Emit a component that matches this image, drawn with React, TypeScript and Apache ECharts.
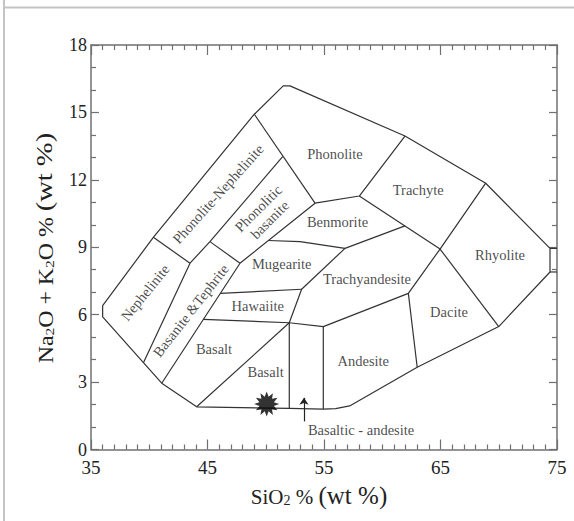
import React, { useEffect, useRef } from "react";
import * as echarts from "echarts";

// ---- axis ticks ----
const xTicks = [35, 45, 55, 65, 75];
const yTicks = [0, 3, 6, 9, 12, 15, 18];

// ---- field boundaries (SiO2 wt%, Na2O+K2O wt%) ----
const outerBoundary = [
  [49.02, 14.92], [51.5, 16.18], [52.08, 16.18], [61.95, 13.95], [68.88, 11.85],
  [74.4, 8.95], [74.4, 7.9], [70.0, 5.47], [63.0, 3.66], [57.2, 1.94], [56.0, 1.82],
  [54.94, 1.8], [52.02, 1.83], [44.07, 1.9], [41.07, 2.95], [36.0, 5.9], [36.0, 6.4],
  [40.35, 9.44], [49.02, 14.92],
];
const rhyoliteCapTop = [[74.4, 8.95], [75, 8.95]];
const rhyoliteCapBottom = [[74.4, 7.9], [75, 7.9]];
const alkalineLines = [
  [[39.5, 3.86], [43.5, 8.29], [45.21, 9.25], [51.45, 13.03]],
  [[40.35, 9.44], [43.5, 8.29]],
  [[45.21, 9.25], [47.79, 8.29]],
  [[41.07, 2.95], [47.79, 8.29], [54.23, 10.96]],
  [[49.02, 14.92], [54.23, 10.96]],
];
const evolvedLines = [
  [[54.23, 10.96], [58.03, 11.28], [61.95, 13.95]],
  [[58.03, 11.28], [61.95, 9.95], [64.96, 8.92]],
  [[68.88, 11.85], [64.96, 8.92], [62.24, 6.95], [63.0, 3.66]],
  [[64.96, 8.92], [70.0, 5.47]],
];
const subalkalineLines = [
  [[44.07, 1.9], [52.02, 5.64], [53.08, 7.13], [56.8, 8.95], [61.95, 9.95]],
  [[44.64, 5.79], [52.02, 5.64], [54.94, 5.47], [62.24, 6.95]],
  [[46.1, 6.95], [53.08, 7.13]],
  [[50.22, 9.3], [52.94, 9.25], [56.8, 8.95]],
  [[52.02, 5.64], [52.02, 1.83]],
  [[54.94, 5.47], [54.94, 1.8]],
];

// ---- field names: [name, SiO2, alkalis] ----
const fieldLabels: [string, number, number][] = [
  ["Phonolite", 55.94, 13.15],
  ["Trachyte", 63.09, 11.55],
  ["Benmorite", 56.16, 10.12],
  ["Rhyolite", 70.11, 8.66],
  ["Trachyandesite", 58.69, 7.59],
  ["Dacite", 65.73, 6.13],
  ["Andesite", 58.37, 3.94],
  ["Mugearite", 51.37, 8.24],
  ["Hawaiite", 49.31, 6.39],
  ["Basalt", 45.56, 4.46],
  ["Basalt", 49.99, 3.44],
  ["Basaltic - andesite", 58.18, 0.87],
  ["Nephelinite", 39.64, 6.98],
  ["Basanite &Tephrite", 43.56, 6.18],
  ["Phonolite-Nephelinite", 45.9, 11.37],
  ["Phonolitic\nbasanite", 49.85, 10.48],
];

// ---- sample and pointer ----
const samplePoint = [[50.08, 2.02]];
const pointerArrow = [[53.28, 1.25], [53.28, 2.3]];

const FONT = "'Liberation Serif', 'Times New Roman', serif";
const labelRotation: Record<string, number> = {
  "Nephelinite": 51,
  "Basanite &Tephrite": 52,
  "Phonolite-Nephelinite": 48,
  "Phonolitic\nbasanite": 45,
};

function starPath(): string {
  let d = "";
  for (let i = 0; i < 24; i++) {
    const a = (i * Math.PI) / 12 - Math.PI / 2;
    const r = i % 2 === 0 ? 50 : 30;
    const x = 50 + r * Math.cos(a);
    const y = 50 + r * Math.sin(a);
    d += (i === 0 ? "M" : "L") + x.toFixed(2) + " " + y.toFixed(2);
  }
  return "path://" + d + "Z";
}

export default function App() {
  const ref = useRef<HTMLDivElement>(null);
  useEffect(() => {
    if (!ref.current) return;
    const chart = echarts.init(ref.current, undefined, { renderer: "svg" });
    const lineColor = "#333";
    const axisColor = "#707070";
    const allLines = [
      outerBoundary, rhyoliteCapTop, rhyoliteCapBottom,
      ...alkalineLines, ...evolvedLines, ...subalkalineLines,
    ];
    const xAxisBase = (pos: "bottom" | "top", labels: boolean) => ({
      type: "value" as const,
      position: pos,
      min: xTicks[0],
      max: xTicks[xTicks.length - 1],
      interval: xTicks[1] - xTicks[0],
      axisLine: { show: true, onZero: false, lineStyle: { color: axisColor, width: 1.5 } },
      axisTick: { show: true, inside: true, length: 10, lineStyle: { color: axisColor, width: 1.2 } },
      minorTick: { show: true, splitNumber: 10, length: 5, lineStyle: { color: axisColor, width: 1.2 } },
      splitLine: { show: false },
      axisLabel: { show: labels, fontFamily: FONT, fontSize: 19, color: "#222", margin: 8 },
    });
    const yAxisBase = (pos: "left" | "right", labels: boolean) => ({
      type: "value" as const,
      position: pos,
      min: yTicks[0],
      max: yTicks[yTicks.length - 1],
      interval: yTicks[1] - yTicks[0],
      axisLine: { show: true, onZero: false, lineStyle: { color: axisColor, width: 1.5 } },
      axisTick: { show: true, inside: true, length: 8, lineStyle: { color: axisColor, width: 1.2 } },
      minorTick: { show: true, splitNumber: 3, length: 5, lineStyle: { color: axisColor, width: 1.2 } },
      splitLine: { show: false },
      axisLabel: { show: labels, fontFamily: FONT, fontSize: 18, color: "#222", margin: 4 },
    });

    const series: any[] = allLines.map((pts) => ({
      type: "line",
      data: pts,
      xAxisIndex: 0,
      yAxisIndex: 0,
      symbol: "none",
      silent: true,
      clip: false,
      lineStyle: { color: lineColor, width: 1.2 },
      z: 2,
    }));
    series.push({
      type: "scatter",
      xAxisIndex: 0,
      yAxisIndex: 0,
      silent: true,
      symbolSize: 1,
      itemStyle: { color: "rgba(0,0,0,0)" },
      data: fieldLabels.map(([name, x, y]) => ({
        name,
        value: [x, y],
        label: { rotate: labelRotation[name] || 0 },
      })),
      label: {
        show: true,
        position: "inside",
        formatter: "{b}",
        fontFamily: FONT,
        fontSize: 14.5,
        lineHeight: 16,
        color: "#1a1a1a",
      },
      z: 3,
    });
    series.push({
      type: "scatter",
      xAxisIndex: 0,
      yAxisIndex: 0,
      silent: true,
      symbol: starPath(),
      symbolSize: 25,
      itemStyle: { color: "#000" },
      data: samplePoint,
      z: 4,
    });
    series.push({
      type: "lines",
      coordinateSystem: "cartesian2d",
      xAxisIndex: 0,
      yAxisIndex: 0,
      silent: true,
      symbol: ["none", "arrow"],
      symbolSize: 7,
      lineStyle: { color: "#222", width: 1.2, opacity: 1 },
      data: [{ coords: pointerArrow }],
      z: 4,
    });

    chart.setOption({
      animation: false,
      backgroundColor: "#fff",
      grid: { left: 91, right: 17, top: 45, bottom: 71.5, containLabel: false },
      xAxis: [xAxisBase("bottom", true), xAxisBase("top", false)],
      yAxis: [yAxisBase("left", true), yAxisBase("right", false)],
      series,
      graphic: [
        { type: "line", silent: true, shape: { x1: 4, y1: 0, x2: 4, y2: 521 }, style: { stroke: "#c4c4c4", lineWidth: 2 } },
        { type: "line", silent: true, shape: { x1: 4, y1: 7.5, x2: 574, y2: 7.5 }, style: { stroke: "#c4c4c4", lineWidth: 2 } },
        {
          type: "text",
          x: 319,
          y: 493,
          silent: true,
          style: {
            text: "{a|SiO}{s|2}{a| % }{b|(wt %)}",
            align: "center",
            verticalAlign: "middle",
            fill: "#222",
            fontFamily: FONT,
            rich: {
              a: { fontFamily: FONT, fontSize: 21, lineHeight: 26, verticalAlign: "bottom", fill: "#222" },
              s: { fontFamily: FONT, fontSize: 14, lineHeight: 13.5, verticalAlign: "bottom", fill: "#222" },
              b: { fontFamily: FONT, fontSize: 25, lineHeight: 29, verticalAlign: "bottom", fill: "#222" },
            },
          },
        },
        {
          type: "text",
          x: 42,
          y: 248,
          rotation: Math.PI / 2,
          scaleX: 1.19,
          silent: true,
          style: {
            text: "{a|Na}{s|2}{a|O + K}{s|2}{a|O % }{b|(wt %)}",
            align: "center",
            verticalAlign: "middle",
            fill: "#222",
            fontFamily: FONT,
            rich: {
              a: { fontFamily: FONT, fontSize: 20, lineHeight: 25.5, verticalAlign: "bottom", fill: "#222" },
              s: { fontFamily: FONT, fontSize: 13, lineHeight: 12.8, verticalAlign: "bottom", fill: "#222" },
              b: { fontFamily: FONT, fontSize: 24, lineHeight: 28.2, verticalAlign: "bottom", fill: "#222" },
            },
          },
        },
      ],
    });
    return () => chart.dispose();
  }, []);
  return (
    <div
      ref={ref}
      style={{ position: "fixed", left: 0, top: 0, width: 574, height: 521, background: "#fff" }}
    />
  );
}
